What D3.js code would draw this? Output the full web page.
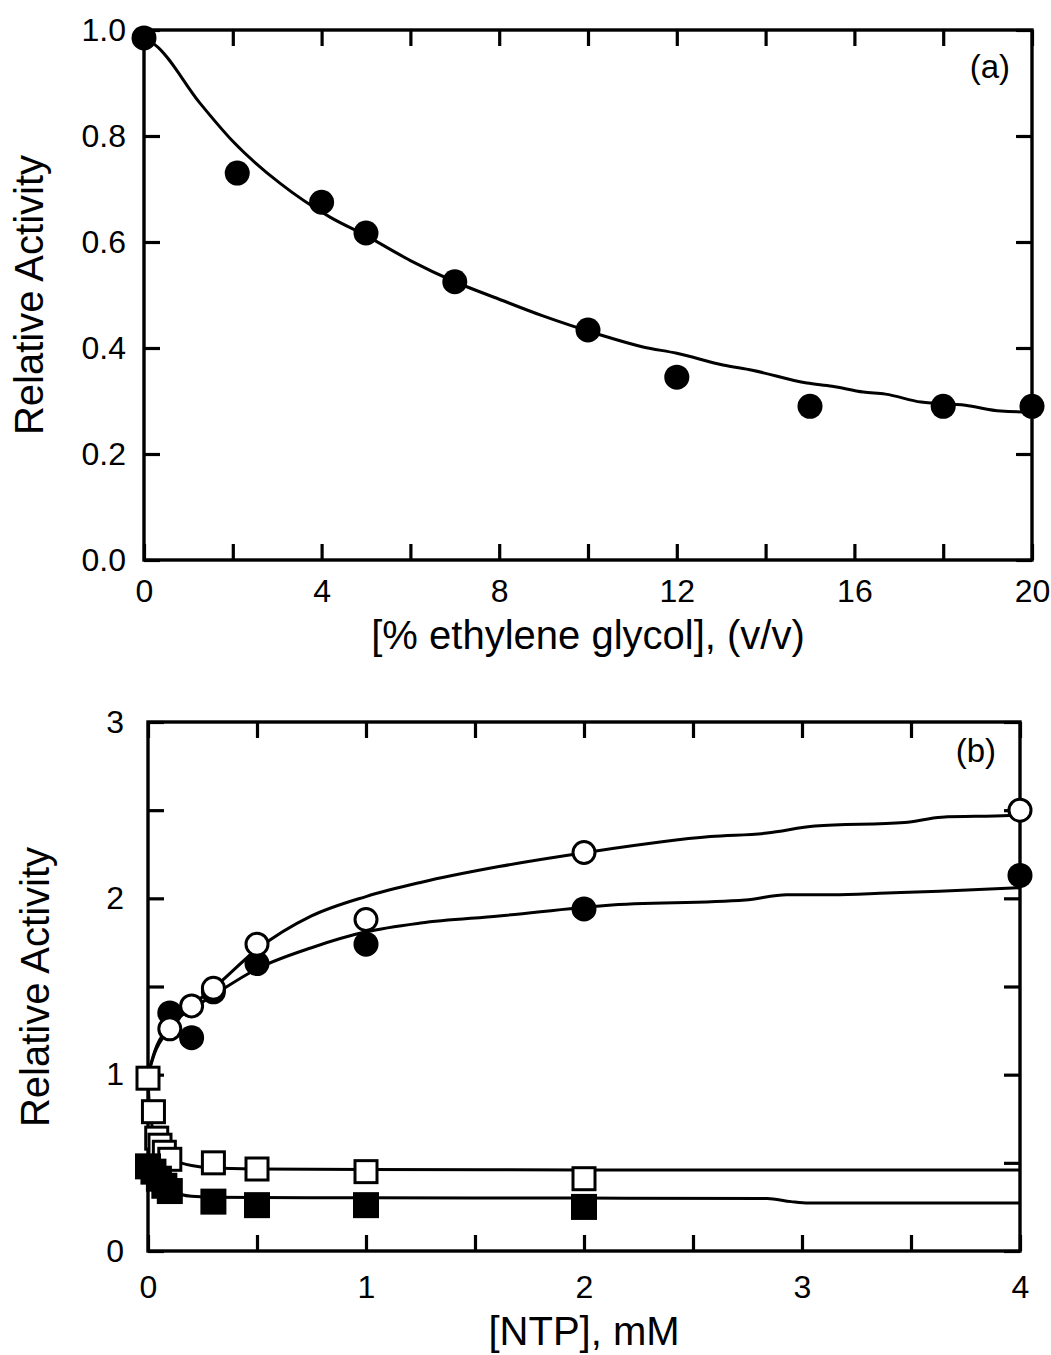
<!DOCTYPE html>
<html>
<head>
<meta charset="utf-8">
<script src="https://cdn.jsdelivr.net/npm/d3@7"></script>
<style>
  body { margin: 0; background: #fff; }
  text { font-family: "Liberation Sans", Arial, Helvetica, sans-serif; fill: #000; }
</style>
</head>
<body>
<div class="chart"></div>
<script>
// ---- panel (a): ethylene glycol ----
var egPct = [0, 2.1, 4, 5, 7, 10, 12, 15, 18, 20];
var egActivity = [0.985, 0.73, 0.675, 0.617, 0.525, 0.434, 0.345, 0.29, 0.29, 0.29];
var egFitX = [0, 0.25, 1.26, 2, 3.06, 4.19, 5, 6, 7, 8, 9, 10.27, 11.24, 12, 13.04, 13.7, 14.93, 15.5, 16.2, 16.7, 17.5, 18.5, 19.3, 20];
var egFitY = [0.985, 0.972, 0.862, 0.79, 0.711, 0.647, 0.612, 0.565, 0.525, 0.492, 0.46, 0.425, 0.402, 0.39, 0.368, 0.358, 0.334, 0.328, 0.317, 0.313, 0.298, 0.292, 0.281, 0.279];
var egXTicks = [0, 2, 4, 6, 8, 10, 12, 14, 16, 18, 20];
var egXLabels = [0, 4, 8, 12, 16, 20];
var egYTicks = [0, 0.2, 0.4, 0.6, 0.8, 1.0];

// ---- panel (b): NTP ----
var ntpFilledCircX = [0.1, 0.2, 0.3, 0.5, 1, 2, 4];
var ntpFilledCircY = [1.35, 1.21, 1.47, 1.63, 1.74, 1.94, 2.13];
var ntpOpenCircX = [0.1, 0.2, 0.3, 0.5, 1, 2, 4];
var ntpOpenCircY = [1.26, 1.39, 1.49, 1.74, 1.88, 2.26, 2.50];
var ntpOpenSqX = [0, 0.025, 0.04, 0.055, 0.075, 0.1, 0.3, 0.5, 1, 2];
var ntpOpenSqY = [0.98, 0.79, 0.64, 0.60, 0.56, 0.52, 0.50, 0.465, 0.45, 0.41];
var ntpFilledSqX = [0, 0.025, 0.05, 0.075, 0.1, 0.3, 0.5, 1, 2];
var ntpFilledSqY = [0.48, 0.45, 0.41, 0.37, 0.34, 0.28, 0.26, 0.26, 0.25];

var fitOpenCircX = [0, 0.03, 0.1, 0.2, 0.3, 0.5, 0.75, 1.0, 1.25, 1.61, 2.01, 2.58, 2.84, 3.06, 3.47, 3.64, 3.95, 4];
var fitOpenCircY = [1.0, 1.12, 1.26, 1.39, 1.49, 1.71, 1.90, 2.01, 2.09, 2.18, 2.26, 2.35, 2.37, 2.41, 2.43, 2.46, 2.47, 2.48];
var fitFilledCircX = [0, 0.03, 0.1, 0.2, 0.3, 0.5, 0.75, 1.0, 1.25, 1.61, 2.1, 2.74, 2.93, 3.14, 3.39, 3.63, 4];
var fitFilledCircY = [1.0, 1.13, 1.28, 1.37, 1.45, 1.60, 1.72, 1.81, 1.86, 1.90, 1.96, 1.99, 2.02, 2.02, 2.03, 2.04, 2.06];
var fitOpenSqX = [0, 0.005, 0.02, 0.05, 0.1, 0.15, 0.2, 0.3, 0.5, 1, 2, 4];
var fitOpenSqY = [0.98, 0.85, 0.70, 0.58, 0.52, 0.50, 0.485, 0.47, 0.465, 0.462, 0.46, 0.459];
var fitFilledSqX = [0, 0.02, 0.05, 0.1, 0.15, 0.2, 0.3, 0.5, 1, 2, 2.84, 2.95, 3.03, 4];
var fitFilledSqY = [0.48, 0.44, 0.39, 0.34, 0.32, 0.31, 0.305, 0.303, 0.302, 0.30, 0.298, 0.28, 0.272, 0.272];
var ntpXTicks = [0, 0.5, 1, 1.5, 2, 2.5, 3, 3.5, 4];
var ntpXLabels = [0, 1, 2, 3, 4];
var ntpYTicks = [0, 0.5, 1, 1.5, 2, 2.5, 3];
var ntpYLabels = [0, 1, 2, 3];

var svgWidth = 1051, svgHeight = 1355;
var svg = d3.select(".chart").append("svg")
  .attr("width", svgWidth)
  .attr("height", svgHeight);

var zip = (xs, ys) => xs.map((x, i) => ({x: x, y: ys[i]}));

// frame, inward ticks on all four sides, labels on bottom/left
function drawFrame(box, x, y, xTicks, xLabels, xFmt, xPad, yTicks, yLabels, yFmt, yPad) {
  var g = svg.append("g");
  var tick = 16;

  g.append("g").attr("transform", `translate(0, ${box.bottom})`)
    .call(d3.axisBottom(x).tickValues(xTicks).tickSize(-tick).tickSizeOuter(0)
      .tickPadding(xPad).tickFormat(d => xLabels.indexOf(d) >= 0 ? xFmt(d) : ""));
  g.append("g").attr("transform", `translate(0, ${box.top})`)
    .call(d3.axisTop(x).tickValues(xTicks).tickSize(-tick).tickSizeOuter(0).tickFormat(""));
  g.append("g").attr("transform", `translate(${box.left}, 0)`)
    .call(d3.axisLeft(y).tickValues(yTicks).tickSize(-tick).tickSizeOuter(0)
      .tickPadding(yPad).tickFormat(d => yLabels.indexOf(d) >= 0 ? yFmt(d) : ""));
  g.append("g").attr("transform", `translate(${box.right}, 0)`)
    .call(d3.axisRight(y).tickValues(yTicks).tickSize(-tick).tickSizeOuter(0).tickFormat(""));

  g.selectAll(".domain").remove();
  g.selectAll(".tick line").attr("stroke", "#000").attr("stroke-width", 3.2);
  g.selectAll(".tick text").attr("font-size", 32).attr("fill", "#000")
    .style("font-family", "'Liberation Sans', Arial, Helvetica, sans-serif");

  g.append("rect")
    .attr("x", box.left).attr("y", box.top)
    .attr("width", box.right - box.left).attr("height", box.bottom - box.top)
    .attr("fill", "none").attr("stroke", "#000").attr("stroke-width", 3.4);
  return g;
}

function drawLine(x, y, xs, ys) {
  svg.append("path")
    .datum(zip(xs, ys))
    .attr("fill", "none")
    .attr("stroke", "#000")
    .attr("stroke-width", 3)
    .attr("stroke-linejoin", "round")
    .attr("d", d3.line().x(d => x(d.x)).y(d => y(d.y)).curve(d3.curveMonotoneX));
}

function drawCircles(x, y, xs, ys, open) {
  svg.append("g").selectAll("circle")
    .data(zip(xs, ys))
    .enter()
    .append("circle")
    .attr("cx", d => x(d.x))
    .attr("cy", d => y(d.y))
    .attr("r", open ? 11 : 12.5)
    .attr("fill", open ? "#fff" : "#000")
    .attr("stroke", "#000")
    .attr("stroke-width", open ? 3 : 0);
}

function drawSquares(x, y, xs, ys, open) {
  var s = open ? 22 : 26;
  svg.append("g").selectAll("rect")
    .data(zip(xs, ys))
    .enter()
    .append("rect")
    .attr("x", d => x(d.x) - s / 2)
    .attr("y", d => y(d.y) - s / 2)
    .attr("width", s)
    .attr("height", s)
    .attr("fill", open ? "#fff" : "#000")
    .attr("stroke", "#000")
    .attr("stroke-width", open ? 3 : 0);
}

function label(x, y, anchor, size, str, rotate) {
  return svg.append("text")
    .attr("transform", `translate(${x}, ${y})` + (rotate ? " rotate(-90)" : ""))
    .attr("text-anchor", anchor)
    .attr("font-size", size)
    .text(str);
}

// ===== panel (a) =====
var boxA = {left: 144, right: 1032, top: 30, bottom: 560};
var xA = d3.scaleLinear().domain([0, 20]).range([boxA.left, boxA.right]);
var yA = d3.scaleLinear().domain([0, 1]).range([boxA.bottom, boxA.top]);

drawFrame(boxA, xA, yA, egXTicks, egXLabels, d3.format("d"), 19, egYTicks, egYTicks, d3.format(".1f"), 18);
drawLine(xA, yA, egFitX, egFitY);
drawCircles(xA, yA, egPct, egActivity, false);

label(1010, 78, "end", 33, "(a)");
label((boxA.left + boxA.right) / 2, 649, "middle", 40, "[% ethylene glycol], (v/v)");
label(43, (boxA.top + boxA.bottom) / 2, "middle", 40, "Relative Activity", true);

// ===== panel (b) =====
var boxB = {left: 148, right: 1020, top: 722, bottom: 1251};
var xB = d3.scaleLinear().domain([0, 4]).range([boxB.left, boxB.right]);
var yB = d3.scaleLinear().domain([0, 3]).range([boxB.bottom, boxB.top]);

drawFrame(boxB, xB, yB, ntpXTicks, ntpXLabels, d3.format("d"), 24, ntpYTicks, ntpYLabels, d3.format("d"), 24);
drawLine(xB, yB, fitFilledCircX, fitFilledCircY);
drawLine(xB, yB, fitOpenCircX, fitOpenCircY);
drawLine(xB, yB, fitOpenSqX, fitOpenSqY);
drawLine(xB, yB, fitFilledSqX, fitFilledSqY);
drawCircles(xB, yB, ntpFilledCircX, ntpFilledCircY, false);
drawCircles(xB, yB, ntpOpenCircX, ntpOpenCircY, true);
drawSquares(xB, yB, ntpOpenSqX, ntpOpenSqY, true);
drawSquares(xB, yB, ntpFilledSqX, ntpFilledSqY, false);

label(996, 762, "end", 33, "(b)");
label((boxB.left + boxB.right) / 2, 1345, "middle", 40, "[NTP], mM");
label(49, 987, "middle", 40, "Relative Activity", true);
</script>
</body>
</html>
